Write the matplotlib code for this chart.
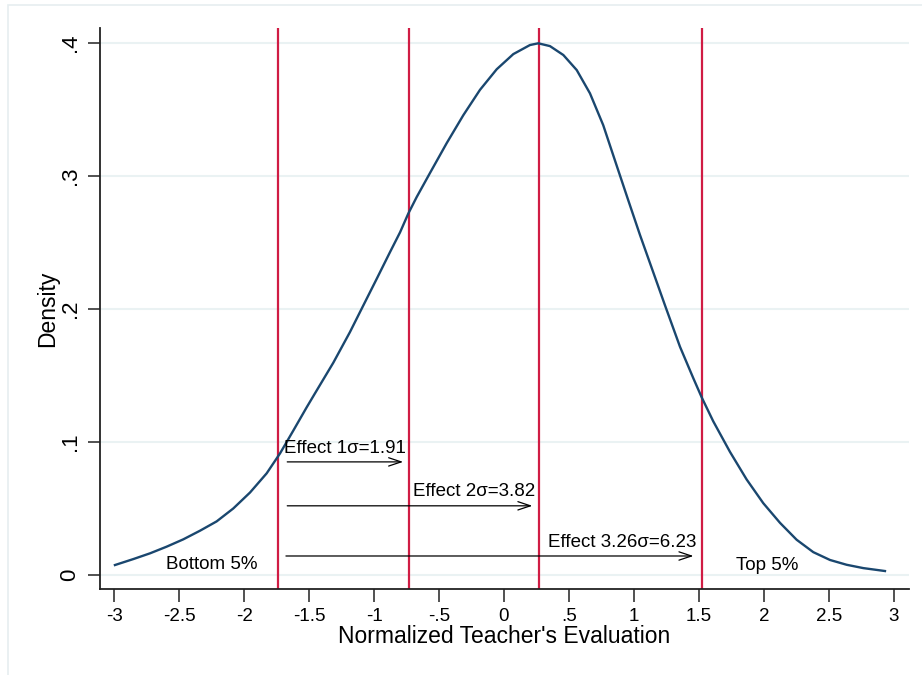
import numpy as np
import matplotlib
matplotlib.use('Agg')
import matplotlib.pyplot as plt
from matplotlib.patches import Rectangle

plt.rcParams['font.family'] = ['Liberation Sans', 'DejaVu Sans']

# kernel density of normalized evaluation
dens_x = [-2.995, -2.853, -2.725, -2.597, -2.469, -2.34, -2.212, -2.084, -1.955, -1.827,
          -1.724, -1.622, -1.519, -1.455, -1.314, -1.186, -1.096, -0.980, -0.878, -0.80,
          -0.737, -0.672, -0.621, -0.57, -0.441, -0.313, -0.185, -0.056, 0.072, 0.200,
          0.264, 0.354, 0.457, 0.56, 0.662, 0.764, 0.868, 0.957, 1.047, 1.149,
          1.24, 1.355, 1.457, 1.522, 1.611, 1.740, 1.868, 1.996, 2.125, 2.253,
          2.381, 2.51, 2.638, 2.766, 2.933]
dens_y = [0.0075, 0.0120, 0.0163, 0.0213, 0.0268, 0.0333, 0.0403, 0.0500, 0.0620, 0.0764,
          0.0914, 0.1085, 0.1260, 0.1365, 0.1595, 0.1825, 0.200, 0.2225, 0.2425, 0.2575,
          0.2715, 0.284, 0.293, 0.302, 0.3245, 0.3455, 0.3645, 0.380, 0.3914, 0.3982,
          0.3995, 0.3974, 0.3907, 0.3794, 0.3619, 0.338, 0.3075, 0.2815, 0.2555, 0.2275,
          0.2025, 0.1715, 0.148, 0.1335, 0.1155, 0.0925, 0.0718, 0.054, 0.0392, 0.0265,
          0.0172, 0.0113, 0.0077, 0.0052, 0.003]

# cut-offs (red lines)
cut_x = [-1.74, -0.73, 0.27, 1.524]

# effect arrows
arrow_start = [-1.69, -1.69, -1.70]
arrow_end = [-0.755, 0.24, 1.48]
arrow_y = [0.085, 0.052, 0.0143]
arrow_text = ['Effect 1σ=1.91', 'Effect 2σ=3.82', 'Effect 3.26σ=6.23']

xticks = [-3, -2.5, -2, -1.5, -1, -0.5, 0, 0.5, 1, 1.5, 2, 2.5, 3]
xtick_labels = ['-3', '-2.5', '-2', '-1.5', '-1', '-.5', '0', '.5', '1', '1.5', '2', '2.5', '3']
yticks = [0, 0.1, 0.2, 0.3, 0.4]
ytick_labels = ['0', '.1', '.2', '.3', '.4']

navy = '#1a476f'
red = '#d01c44'

fig = plt.figure(figsize=(9.22, 6.75), dpi=100)
fig.patches.append(Rectangle((8 / 922, -0.1), 2, 1.1 - 5 / 675, transform=fig.transFigure,
                             fill=False, edgecolor='#e6eef0', linewidth=1.2))
ax = fig.add_axes([100 / 922, 1 - 589 / 675, 809 / 922, 561 / 675])

for yv in yticks:
    ax.axhline(yv, color='#eaf2f3', linewidth=1.5, zorder=0)

for cx in cut_x:
    ax.axvline(cx, color=red, linewidth=1.6, zorder=2)

ax.plot(dens_x, dens_y, color=navy, linewidth=1.7, zorder=3)

for x0, x1, yv, txt in zip(arrow_start, arrow_end, arrow_y, arrow_text):
    ax.annotate('', xy=(x1, yv), xytext=(x0, yv),
                arrowprops=dict(arrowstyle='->,head_length=0.9,head_width=0.3',
                                color='black', linewidth=0.9), zorder=4)
    ax.text(x1, yv + 0.004, txt, ha='right', va='bottom', fontsize=13.5, zorder=4)

ax.text(-2.6, 0.0015, 'Bottom 5%', ha='left', va='bottom', fontsize=13.5)
ax.text(1.79, 0.0005, 'Top 5%', ha='left', va='bottom', fontsize=13.5)

ax.set_xlim(-3.11, 3.118)
ax.set_ylim(-0.0105, 0.411)
ax.set_xticks(xticks)
ax.set_xticklabels(xtick_labels)
ax.set_yticks(yticks)
ax.set_yticklabels(ytick_labels, rotation=90, va='center')
ax.tick_params(axis='both', length=9, width=1.2, color='#333333')
ax.tick_params(axis='x', labelsize=13.5, pad=5)
ax.tick_params(axis='y', labelsize=16, pad=5)

for s in ['top', 'right']:
    ax.spines[s].set_visible(False)
for s in ['left', 'bottom']:
    ax.spines[s].set_linewidth(1.3)
    ax.spines[s].set_color('#222222')

ax.set_xlabel("Normalized Teacher's Evaluation", fontsize=16.5, labelpad=0)
ax.set_ylabel('Density', fontsize=16.5, labelpad=0)

plt.savefig('out.png', dpi=100)
